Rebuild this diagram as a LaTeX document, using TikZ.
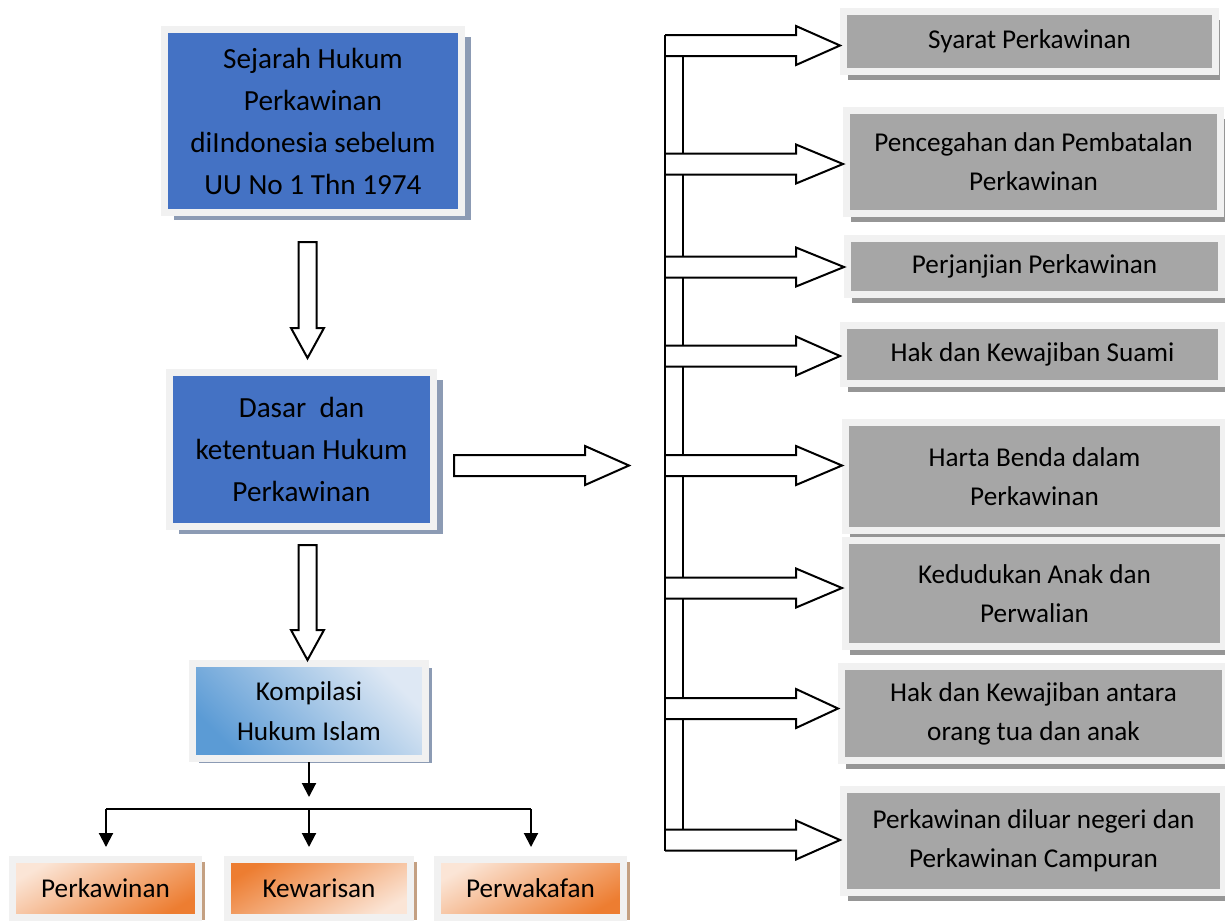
\documentclass[tikz,border=0pt]{standalone}
\usepackage{fontspec}
\setmainfont{Carlito}
\usetikzlibrary{calc,shadows,arrows.meta}

\definecolor{boxblue}{RGB}{68,114,196}
\definecolor{blueshadow}{RGB}{140,155,180}
\definecolor{framegray}{RGB}{241,241,241}
\definecolor{boxgray}{RGB}{166,166,166}
\definecolor{grayshadow}{RGB}{150,150,150}
\definecolor{komplight}{RGB}{222,232,244}
\definecolor{kompdark}{RGB}{91,155,213}
\definecolor{orangelight}{RGB}{251,229,214}
\definecolor{orangedark}{RGB}{237,125,49}
\definecolor{orangeshadow}{RGB}{196,160,130}

\tikzset{
	box/.style={draw=framegray, line width=3.5pt, inner sep=0pt, align=center},
	boxsize/.style 2 args={minimum width=#1*0.5pt, minimum height=#2*0.5pt},
	bluebox/.style={box, fill=boxblue, font=\fontsize{14.6}{21}\selectfont,
		drop shadow={shadow xshift=4.5pt, shadow yshift=-3.5pt, fill=blueshadow, opacity=1}},
	graybox/.style={box, fill=boxgray, font=\fontsize{13.6}{19.5}\selectfont,
		drop shadow={shadow xshift=2pt, shadow yshift=-4pt, fill=grayshadow, opacity=1}},
	orangebox/.style 2 args={box, font=\fontsize{13.6}{20}\selectfont,
		top color=#1, bottom color=#2, shading angle=30,
		drop shadow={shadow xshift=3pt, shadow yshift=-1pt, fill=orangeshadow, opacity=1}},
	hollow/.style={draw=black, fill=white, line width=1pt, line join=miter},
	comb/.style={line width=1pt},
	arr/.style={line width=1pt, -{Triangle[length=7pt, width=7pt]}}
}

% hollow block arrows
\newcommand{\blockdown}[2]{%
	\draw[hollow] ($(#1)+(-9,0)$) -- ($(#2)+(-9,-30)$) -- ($(#2)+(-16.5,-30)$) -- (#2)
		-- ($(#2)+(16.5,-30)$) -- ($(#2)+(9,-30)$) -- ($(#1)+(9,0)$) -- cycle;}
\newcommand{\blockright}[2]{%
	\draw[hollow] ($(#1)+(0,-10.5)$) -- ($(#2)+(-44,-10.5)$) -- ($(#2)+(-44,-19.5)$) -- (#2)
		-- ($(#2)+(-44,19.5)$) -- ($(#2)+(-44,10.5)$) -- ($(#1)+(0,10.5)$) -- cycle;}

\begin{document}
\begin{tikzpicture}[x=0.5pt, y=-0.5pt]

	\path[use as bounding box, fill=white] (0,0) rectangle (1225,923);

	% left column
	\node[bluebox, boxsize={297}{183}] (sejarah) at (313,121)
		{Sejarah Hukum\\Perkawinan\\diIndonesia sebelum\\UU No 1 Thn 1974};
	\node[bluebox, boxsize={264}{154}] (dasar) at (301.5,449.5)
		{Dasar~ dan\\ketentuan Hukum\\Perkawinan};
	\node[box, boxsize={233}{95}, top color=komplight, bottom color=kompdark, shading angle=-45,
		font=\fontsize{13.6}{20}\selectfont,
		drop shadow={shadow xshift=3pt, shadow yshift=-2pt, fill=blueshadow, opacity=1}]
		(kompilasi) at (309,711) {Kompilasi\\Hukum Islam};

	\node[orangebox={orangelight}{orangedark}, boxsize={186}{58}] (perkawinan) at (105.5,888.5) {Perkawinan};
	\node[orangebox={orangedark}{orangelight}, boxsize={183}{58}] (kewarisan) at (319,888.5) {Kewarisan};
	\node[orangebox={orangelight}{orangedark}, boxsize={186}{58}] (perwakafan) at (530.5,888.5) {Perwakafan};

	% right column
	\node[graybox, boxsize={372}{60}] (syarat) at (1029.5,41.5) {Syarat Perkawinan};
	\node[graybox, boxsize={374}{103}] (cegah) at (1033.5,162) {Pencegahan dan Pembatalan\\Perkawinan};
	\node[graybox, boxsize={374}{56}] (janji) at (1034.5,266.5) {Perjanjian Perkawinan};
	\node[graybox, boxsize={378}{58}] (suami) at (1032.5,354.5) {Hak dan Kewajiban Suami};
	\node[graybox, boxsize={378}{108}] (harta) at (1034.5,476.5) {Harta Benda dalam\\Perkawinan};
	\node[graybox, boxsize={378}{106}] (anak) at (1034.5,593.5) {Kedudukan Anak dan\\Perwalian};
	\node[graybox, boxsize={384}{94}] (ortu) at (1033.5,713.5) {Hak dan Kewajiban antara\\orang tua dan anak};
	\node[graybox, boxsize={380}{103}] (luar) at (1033.5,841) {Perkawinan diluar negeri dan\\Perkawinan Campuran};

	% block arrows
	\coordinate (d1a) at (307.5,242);
	\coordinate (d1b) at (307.5,358);
	\coordinate (d2a) at (307.5,545);
	\coordinate (d2b) at (307.5,660);
	\coordinate (h1a) at (454,465.5);
	\coordinate (h1b) at (629,465.5);
	\blockdown{d1a}{d1b}
	\blockdown{d2a}{d2b}
	\blockright{h1a}{h1b}

	% comb to the right boxes
	\draw[comb] (665,35) -- (665,850.5);
	\foreach \c/\n in {45.5/syarat, 164/cegah, 267/janji, 356/suami, 465.5/harta, 588/anak, 708.5/ortu, 840/luar}
		\draw[hollow, fill=none] (665,\c-10.5) -- (796,\c-10.5) -- (796,\c-19.5) -- (\n.west |- 0,\c)
			-- (796,\c+19.5) -- (796,\c+10.5) -- (665,\c+10.5);
	\foreach \a/\b in {45.5/164, 164/267, 267/356, 356/465.5, 465.5/588, 588/708.5, 708.5/840}
		\draw[comb] (683,\a+10.5) -- (683,\b-10.5);

	% split below Kompilasi
	\coordinate (barL) at (106,809);
	\coordinate (barR) at (531,809);
	\draw[arr, shorten >=6pt] (kompilasi.south) -- (kompilasi.south |- barL);
	\draw[comb] (barL) -- (barR);
	\draw[arr, shorten >=4.5pt] (barL) -- (barL |- perkawinan.north);
	\draw[arr, shorten >=4.5pt] (kompilasi.south |- barL) -- (kompilasi.south |- kewarisan.north);
	\draw[arr, shorten >=4.5pt] (barR) -- (barR |- perwakafan.north);

\end{tikzpicture}
\end{document}
